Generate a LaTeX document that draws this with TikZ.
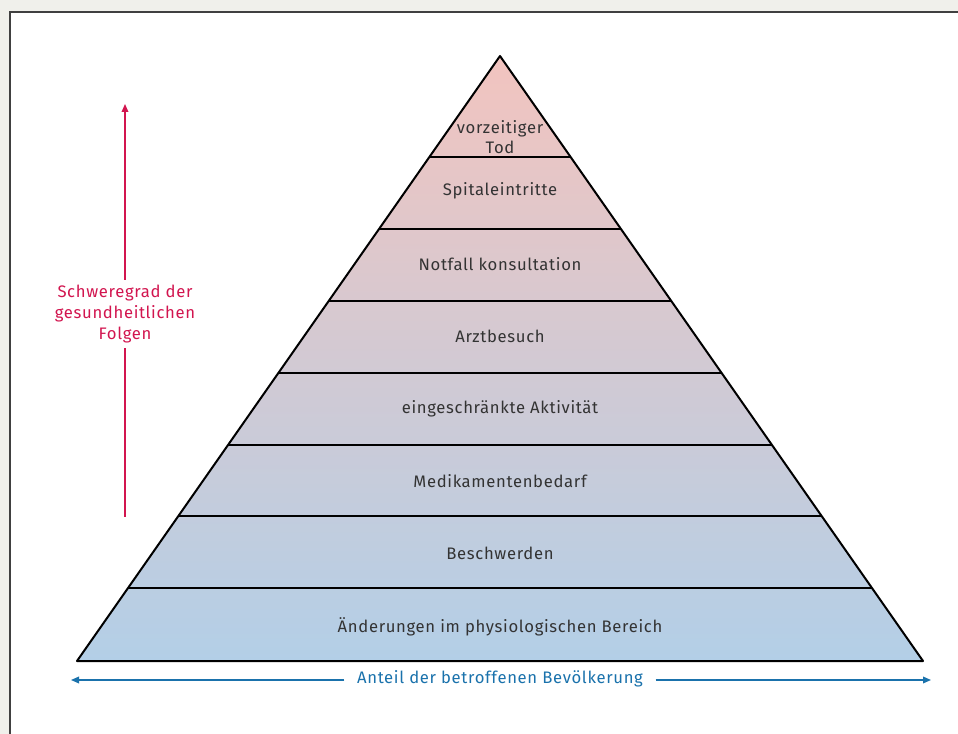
\documentclass[tikz,border=0pt]{standalone}
\usepackage{fontspec}
\setmainfont{Fira Sans}[LetterSpace=4]
\usetikzlibrary{arrows.meta}

\definecolor{pagebg}{HTML}{F0F0EB}
\definecolor{framegray}{HTML}{404040}
\definecolor{pyrtop}{HTML}{F2C4BF}
\definecolor{pyrbottom}{HTML}{B3CFE7}
\definecolor{labelgray}{HTML}{333333}
\definecolor{sevred}{HTML}{D2154F}
\definecolor{shareblue}{HTML}{1A72AC}

\tikzset{
    band/.style={font=\fontsize{12.5}{15.5}\selectfont, text=labelgray, align=center},
    sevlabel/.style={font=\fontsize{12.5}{16}\selectfont, text=sevred, align=center},
    sharelabel/.style={font=\fontsize{12.5}{15}\selectfont, text=shareblue},
    sevarrow/.style={draw=sevred, line width=0.9pt},
    sharearrow/.style={draw=shareblue, line width=0.9pt},
}

\begin{document}
\begin{tikzpicture}[x=0.75pt,y=-0.75pt]
        \useasboundingbox (0,0) rectangle (958,734);
        \fill[pagebg] (0,0) rectangle (958,734);
        \draw[framegray, line width=1.3pt, fill=white] (10,12) rectangle (990,760);

        % pyramid
        \shade[top color=pyrtop, bottom color=pyrbottom] (500,56) -- (923,661) -- (77,661) -- cycle;
        \draw[line width=1.5pt, line join=round] (500,56) -- (923,661) -- (77,661) -- cycle;
        \draw[-, line width=1.5pt] (429.4,157) -- (570.6,157);
        \draw[-, line width=1.5pt] (379.0,229) -- (621.0,229);
        \draw[-, line width=1.5pt] (328.7,301) -- (671.3,301);
        \draw[-, line width=1.5pt] (278.4,373) -- (721.6,373);
        \draw[-, line width=1.5pt] (228.0,445) -- (772.0,445);
        \draw[-, line width=1.5pt] (178.4,516) -- (821.6,516);
        \draw[-, line width=1.5pt] (128.0,588) -- (872.0,588);

        \node[band] (tod) at (500,137) {vorzeitiger\\Tod};
        \node[band] (spital) at (500,191) {Spitaleintritte};
        \node[band] (notfall) at (500,264) {Notfall konsultation};
        \node[band] (arzt) at (500,336) {Arztbesuch};
        \node[band] (aktiv) at (500,409) {eingeschränkte Aktivität};
        \node[band] (medi) at (500,481) {Medikamentenbedarf};
        \node[band] (beschw) at (500,553) {Beschwerden};
        \node[band] (phys) at (500,627) {Änderungen im physiologischen Bereich};

        % severity axis
        \node[sevlabel] (sev) at (125,314) {Schweregrad der\\gesundheitlichen\\Folgen};
        \coordinate (sevtop) at (125,104);
        \coordinate (sevbottom) at (125,517);
        \draw[sevarrow, -{Triangle[length=6pt,width=5pt]}] (sev.north) -- (sevtop);
        \draw[sevarrow] (sev.south) -- (sevbottom);

        % population axis
        \node[sharelabel] (share) at (500,679) {Anteil der betroffenen Bevölkerung};
        \coordinate (shareleft) at (71,680);
        \coordinate (shareright) at (931,680);
        \draw[sharearrow, -{Triangle[length=6pt,width=5pt]}] (share.west |- shareleft) ++(-8,0) -- (shareleft);
        \draw[sharearrow, -{Triangle[length=6pt,width=5pt]}] (share.east |- shareright) ++(8,0) -- (shareright);
    \end{tikzpicture}
\end{document}
